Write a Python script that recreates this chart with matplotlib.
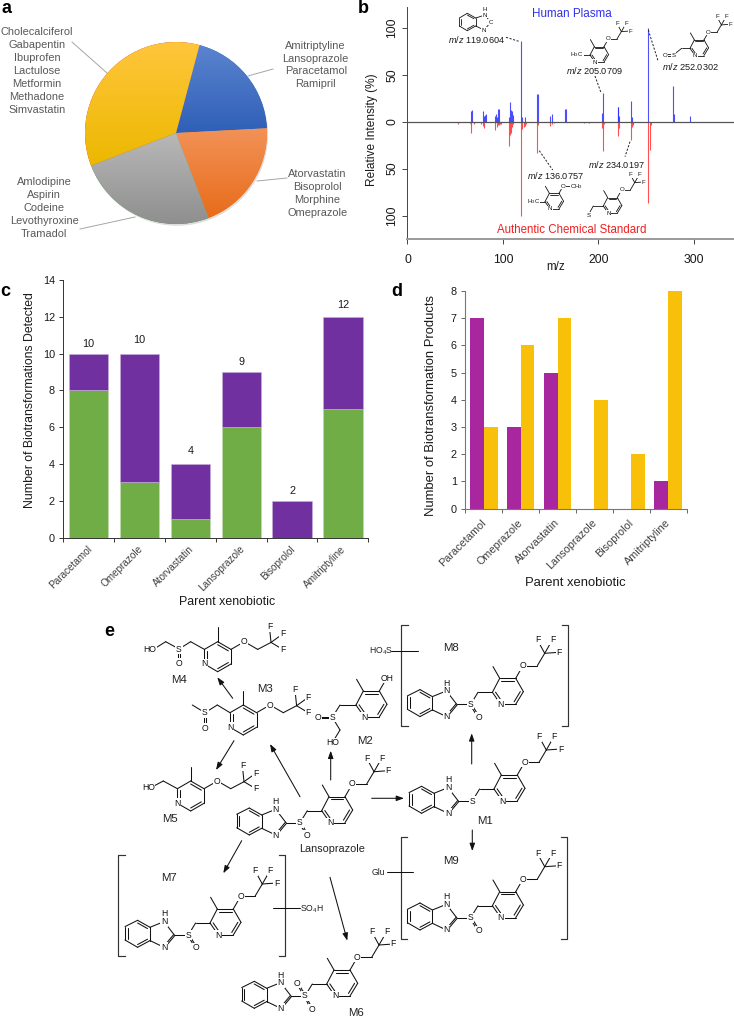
import matplotlib
matplotlib.use("Agg")
import matplotlib.pyplot as plt
import numpy as np
from matplotlib.patches import Circle

W, H = 734, 1019

plt.rcParams["font.family"] = ["Liberation Sans", "DejaVu Sans"]
plt.rcParams["mathtext.fontset"] = "custom"
plt.rcParams["mathtext.rm"] = "Liberation Sans"
plt.rcParams["mathtext.it"] = "Liberation Sans:italic"
plt.rcParams["mathtext.bf"] = "Liberation Sans:bold"
plt.rcParams["mathtext.default"] = "regular"

# panel a
pie_counts = [4, 4, 5, 7]
pie_top = ["#5b84cf", "#f29257", "#b8b8b8", "#ffc63c"]
pie_bottom = ["#2f5fb8", "#e86c1a", "#8f8f8f", "#ecb800"]
pie_groups = [
    ["Amitriptyline", "Lansoprazole", "Paracetamol", "Ramipril"],
    ["Atorvastatin", "Bisoprolol", "Morphine", "Omeprazole"],
    ["Amlodipine", "Aspirin", "Codeine", "Levothyroxine", "Tramadol"],
    ["Cholecalciferol", "Gabapentin", "Ibuprofen", "Lactulose", "Metformin", "Methadone", "Simvastatin"],
]

# panel b
plasma_mz = [66, 68, 79, 80, 81, 82, 92, 93, 94, 95, 96, 106, 107, 108, 109, 110, 119, 120, 123, 136, 137,
             149, 151, 165, 166, 204, 205, 220, 221, 222, 234, 235, 252, 278, 279, 296]
plasma_int = [11, 12, 11, 6, 7, 8, 6, 8, 5, 13, 13, 5, 21, 12, 11, 7, 86, 5, 5, 30, 30,
              6, 8, 13, 13, 9, 31, 16, 16, 6, 22, 5, 100, 38, 8, 6]
standard_mz = [53, 65, 66, 67, 70, 77, 79, 80, 92, 94, 95, 96, 97, 98, 106, 107, 108, 109, 110, 119, 120,
               122, 123, 124, 136, 137, 149, 151, 153, 185, 190, 204, 205, 206, 220, 222, 234, 235, 236,
               252, 254, 255]
standard_int = [2, 1, 12, 4, 2, 2, 5, 7, 9, 6, 4, 4, 3, 2, 26, 14, 12, 6, 3, 100, 8,
                6, 5, 2, 33, 4, 5, 3, 1, 1, 1, 7, 31, 3, 15, 7, 20, 6, 4,
                87, 30, 4]

# panels c and d
drugs = ["Paracetamol", "Omeprazole", "Atorvastatin", "Lansoprazole", "Bisoprolol", "Amitriptyline"]
detected_green = [8, 3, 1, 6, 0, 7]
detected_purple = [2, 7, 3, 3, 2, 5]
detected_total = [10, 10, 4, 9, 2, 12]
products_purple = [7, 3, 5, 0, 0, 1]
products_yellow = [3, 6, 7, 4, 2, 8]

GREY_TEXT = "#595959"
TICK_TEXT = "#404040"
TEXT = "#1a1a1a"
CHEM_LW = 0.75
CHEM_FS = 6.2

fig = plt.figure(figsize=(W / 100, H / 100), dpi=100, facecolor="white")


def px_axes(left, top, right, bottom, **kwargs):
    return fig.add_axes([left / W, 1 - bottom / H, (right - left) / W, (bottom - top) / H], **kwargs)


# full figure overlay in pixel coordinates, for labels and structures
ov = fig.add_axes([0, 0, 1, 1], zorder=10)
ov.set_xlim(0, W)
ov.set_ylim(H, 0)
ov.axis("off")
ov.patch.set_alpha(0)


def draw_pie():
    ax = px_axes(85, 42, 267, 224)
    ax.add_patch(Circle((0.012, -0.02), 1.0, color="#000000", alpha=0.13, lw=0, clip_on=False))
    wedges, _ = ax.pie(pie_counts, startangle=75, counterclock=False, radius=1, center=(0, 0))
    for wedge, top, bottom in zip(wedges, pie_top, pie_bottom):
        ext = wedge.get_path().get_extents()
        c1 = np.array(matplotlib.colors.to_rgb(top))
        c2 = np.array(matplotlib.colors.to_rgb(bottom))
        grad = np.linspace(0, 1, 128)[:, None, None] * (c2 - c1) + c1
        img = ax.imshow(grad, extent=(-1.05, 1.05, ext.y0, ext.y1), origin="upper", aspect="auto", zorder=3)
        img.set_clip_path(wedge)
    ax.set_xlim(-1, 1)
    ax.set_ylim(-1, 1)
    ax.axis("off")

    spots = [(315.7, 65), (317.3, 193.8), (44.3, 208), (37, 71)]
    for names, (x, y) in zip(pie_groups, spots):
        ov.text(x, y, "\n".join(names), ha="center", va="center", ma="center", fontsize=7.9,
                color=GREY_TEXT, linespacing=1.37)
    leaders = [((248, 76), (273, 69)), ((257, 181), (287, 178)), ((80, 229), (135, 217)), ((72, 42), (107, 73))]
    for (x0, y0), (x1, y1) in leaders:
        ov.plot([x0, x1], [y0, y1], color="#a6a6a6", lw=0.7)


def draw_spectrum():
    ax = px_axes(407.5, 6.7, 734, 238.7)
    ax.vlines(plasma_mz, 0, plasma_int, color="#3030ff", lw=0.8, alpha=0.85)
    ax.vlines(standard_mz, 0, [-v for v in standard_int], color="#ff3030", lw=0.8, alpha=0.85)
    ax.axhline(0, color="#555555", lw=0.9, zorder=3)
    ax.set_xlim(0, 342)
    ax.set_ylim(-124.7, 122.5)
    ax.set_xticks([0, 100, 200, 300])
    ax.set_yticks([-100, -50, 0, 50, 100])
    ax.set_yticklabels(["100", "50", "0", "50", "100"], rotation=90, va="center", fontsize=8.8)
    ax.tick_params(axis="x", labelsize=8.8, length=3.5, width=0.7, pad=7.5, color="#444444", labelcolor=TEXT)
    ax.tick_params(axis="y", length=3.5, width=0.7, pad=3, color="#444444", labelcolor=TEXT)
    for side in ("top", "right"):
        ax.spines[side].set_visible(False)
    ax.spines["left"].set_linewidth(0.7)
    ax.spines["left"].set_color("#444444")
    ax.spines["bottom"].set_linewidth(1.4)
    ax.spines["bottom"].set_color("#9a9a9a")

    ov.text(372, 130, "Relative Intensity (%)", rotation=90, ha="center", va="center", fontsize=8.6, color=TEXT)
    ov.text(556, 267, "m/z", ha="center", va="center", fontsize=8.4, color=TEXT)
    ov.text(572, 14, "Human Plasma", ha="center", va="center", fontsize=8.4, color="#3030ee")
    ov.text(572, 230, "Authentic Chemical Standard", ha="center", va="center", fontsize=8.3, color="#ee2020")

    peaks = [
        ("119.0604", 476.7, 39), ("205.0709", 594, 70.5), ("252.0302", 690, 66),
        ("136.0757", 555, 175.5), ("234.0197", 616.7, 164),
    ]
    for name, x, y in peaks:
        ov.text(x, y, r"$\mathit{m/z}$ " + name, ha="center", va="center", fontsize=6.6, color=TEXT)
    dashes = [((506, 37.3), (520, 41.7)), ((595, 76), (601, 92.7)), ((648.3, 30), (658.3, 61.7)),
              ((539.3, 150.7), (552.7, 170)), ((630, 141.7), (625, 156.7))]
    for (x0, y0), (x1, y1) in dashes:
        ov.plot([x0, x1], [y0, y1], color="#222222", lw=0.7, ls=(0, (2.2, 1.6)))


def drug_ticks(ax, x, offset, size):
    for xi, name in zip(x, drugs):
        ax.annotate(name, (xi, 0), xytext=offset, textcoords="offset points", rotation=45, ha="right", va="top",
                    rotation_mode="anchor", fontsize=size, color=TICK_TEXT)


def draw_stacked():
    ax = px_axes(63.3, 280, 368.3, 537.7)
    x = np.arange(len(drugs))
    ax.bar(x, detected_green, width=0.775, color="#70AD47", edgecolor="#c4dcb4", lw=0.4)
    ax.bar(x, detected_purple, width=0.775, bottom=detected_green, color="#7030A0", edgecolor="#c9b0dc", lw=0.4)
    lifts = [0.5, 0.72, 0.7, 0.53, 0.56, 0.63]
    for xi, total, lift in zip(x, detected_total, lifts):
        ax.text(xi, total + lift, str(total), ha="center", va="center", fontsize=7.8, color=TEXT)
    ax.set_xlim(-0.5, 5.5)
    ax.set_ylim(0, 14)
    ax.set_xticks(np.arange(-0.5, 6, 1))
    ax.set_xticklabels([])
    ax.set_yticks(range(0, 15, 2))
    ax.tick_params(axis="y", labelsize=7.8, length=3, width=0.7, pad=3, color="#333333", labelcolor=TEXT)
    ax.tick_params(axis="x", length=3, width=0.7, color="#333333")
    for side in ("top", "right"):
        ax.spines[side].set_visible(False)
    for side in ("left", "bottom"):
        ax.spines[side].set_linewidth(0.7)
        ax.spines[side].set_color("#333333")
    drug_ticks(ax, x, (-1.5, -4.5), 7.2)
    ov.text(30, 400, "Number of Biotransformations Detected", rotation=90, ha="center", va="center",
            fontsize=8.8, color=TEXT)
    ov.text(226.7, 601.7, "Parent xenobiotic", ha="center", va="center", fontsize=8.9, color=TEXT)


def draw_grouped():
    ax = px_axes(465.3, 291, 686.7, 508.7)
    x = np.arange(len(drugs))
    ax.bar(x - 0.1875, products_purple, width=0.375, color="#A8279F")
    ax.bar(x + 0.1875, products_yellow, width=0.375, color="#F9C009")
    ax.set_xlim(-0.5, 5.5)
    ax.set_ylim(0, 8)
    ax.set_xticks(np.arange(-0.5, 6, 1))
    ax.set_xticklabels([])
    ax.set_yticks(range(0, 9))
    ax.tick_params(axis="y", labelsize=7.8, length=3, width=0.7, pad=3, color="#666666", labelcolor=TEXT)
    ax.tick_params(axis="x", length=3, width=0.7, color="#666666")
    for side in ("top", "right"):
        ax.spines[side].set_visible(False)
    for side in ("left", "bottom"):
        ax.spines[side].set_linewidth(0.8)
        ax.spines[side].set_color("#777777")
    drug_ticks(ax, x, (-2, -6.5), 7.8)
    ov.text(431, 406, "Number of Biotransformation Products", rotation=90, ha="center", va="center",
            fontsize=9.4, color=TEXT)
    ov.text(575.7, 582.7, "Parent xenobiotic", ha="center", va="center", fontsize=9.4, color=TEXT)


# structure drawing helpers, all offsets in reference pixels
FLAT = {"C2": (0, 0), "C3": (7.3, -14), "C4": (23.3, -14), "C5": (31, -0.7), "C6": (23.3, 12), "N": (8.3, 12),
        "Me": (0.6, -25.7), "O": (30.6, -26.7), "CH2": (45, -26.7), "CF": (52.3, -39),
        "F1": (45, -52.4), "F2": (60, -52.4), "F3": (66.6, -40)}
POINTY = {"C2": (-13.3, 7.7), "C3": (0, 0), "C4": (13.3, 7.7), "C5": (13.3, 22.3), "C6": (0, 30), "N": (-13.3, 22.3),
          "Me": (0, -14.3), "O": (26.7, 0), "CH2": (40, 7.7), "CF": (53.3, 0.7),
          "F1": (51.7, -15), "F2": (65, -7.7), "F3": (65, 7.7)}
BENZENE = [(-63.3, -8.4), (-50.7, -14.7), (-38.3, -7.7), (-38.3, 5.6), (-50.7, 12.3), (-63.3, 5)]


def bond(p, q, lw=CHEM_LW):
    ov.plot([p[0], q[0]], [p[1], q[1]], color="#111111", lw=lw, zorder=1, solid_capstyle="round")


def atom(p, label, fs=CHEM_FS):
    ov.text(p[0], p[1], label, ha="center", va="center", fontsize=fs, color="#111111", zorder=2,
            bbox=dict(boxstyle="square,pad=0.08", fc="white", ec="none"))


def inner(p, q, centre, gap=0.2, lw=CHEM_LW):
    p, q, centre = np.array(p), np.array(q), np.array(centre)
    a = p + (centre - p) * gap
    b = q + (centre - q) * gap
    bond(a, b, lw)


def double(p, q, gap=1.3, lw=CHEM_LW):
    p, q = np.array(p, float), np.array(q, float)
    n = np.array([q[1] - p[1], p[0] - q[0]])
    n = n / np.hypot(*n) * gap / 2
    bond(p + n, q + n, lw)
    bond(p - n, q - n, lw)


def ring(points, doubles, lw=CHEM_LW):
    centre = np.mean(points, axis=0)
    for i in range(len(points)):
        bond(points[i], points[(i + 1) % len(points)], lw)
    for i in doubles:
        inner(points[i], points[(i + 1) % len(points)], centre, lw=lw)


def tail(origin, template, scale=1.0, fluoro=True, fs=CHEM_FS, lw=CHEM_LW):
    pts = {k: (origin[0] + v[0] * scale, origin[1] + v[1] * scale) for k, v in template.items()}
    ring([pts[k] for k in ("C2", "C3", "C4", "C5", "C6", "N")], [1, 3, 5], lw)
    bond(pts["C3"], pts["Me"], lw)
    bond(pts["C4"], pts["O"], lw)
    if fluoro:
        bond(pts["O"], pts["CH2"], lw)
        bond(pts["CH2"], pts["CF"], lw)
        for f in ("F1", "F2", "F3"):
            bond(pts["CF"], pts[f], lw)
            atom(pts[f], "F", fs)
        atom(pts["O"], "O", fs)
    atom(pts["N"], "N", fs)
    return pts


def benzimidazole(s):
    pts = [(s[0] + dx, s[1] + dy) for dx, dy in BENZENE]
    ring(pts, [1, 3, 5])
    nh = (s[0] - 24.3, s[1] - 13.4)
    c2 = (s[0] - 14, s[1])
    n = (s[0] - 24.3, s[1] + 12.3)
    bond(pts[2], nh)
    bond(nh, c2)
    double(c2, n, 1.5)
    bond(n, pts[3])
    bond(c2, s)
    atom(nh, "N")
    ov.text(nh[0], nh[1] - 7.6, "H", ha="center", va="center", fontsize=CHEM_FS, color="#111111")
    atom(n, "N")


def full_molecule(s, oxygens):
    ch2 = (s[0] + 7.3, s[1] - 12)
    c2 = (s[0] + 21.7, s[1] - 12)
    benzimidazole(s)
    bond(s, ch2)
    bond(ch2, c2)
    tail(c2, FLAT)
    for ox, oy in oxygens:
        o = (s[0] + ox, s[1] + oy)
        double(s, o, 1.5)
        atom(o, "O")
    atom(s, "S")


def bracket(x0, x1, y0, y1):
    for x, d in ((x0, 6.5), (x1, -6.5)):
        ov.plot([x + d, x, x, x + d], [y0, y0, y1, y1], color="#333333", lw=0.85, zorder=1)


def arrow(p, q):
    ov.annotate("", xy=q, xytext=p, arrowprops=dict(arrowstyle="-|>,head_length=0.45,head_width=0.16",
                                                    color="#111111", lw=0.75, shrinkA=0, shrinkB=0))


def label(x, y, s, fs=8.2):
    ov.text(x, y, s, ha="center", va="center", fontsize=fs, color="#222222")


def draw_scheme():
    # lansoprazole and the products that keep the same skeleton
    full_molecule((300, 822.7), [(7.3, 12.3)])
    label(332.5, 849, "Lansoprazole", 7.8)
    full_molecule((470.7, 704.3), [(8, 13)])
    full_molecule((472.3, 801), [])
    full_molecule((470.7, 917.7), [(8, 13)])
    full_molecule((188.3, 935), [(8, 13)])
    full_molecule((305, 996), [(-7.7, -12.7), (6.7, 13.3)])
    label(451, 648, "M8")
    label(485.5, 821, "M1")
    label(451, 861, "M9")
    label(169, 878, "M7")
    label(356, 1013.5, "M6")

    bracket(401, 568, 624.7, 726)
    bracket(400.7, 567.3, 837.3, 939)
    bracket(118.3, 285, 855, 955.7)

    bond((391, 651), (417.7, 651))
    bond((386.7, 872.3), (412.7, 872.3))
    bond((273.3, 908.3), (300, 908.3))
    label(380.5, 651, r"HO$_4$S", CHEM_FS)
    label(378, 872.3, "Glu", CHEM_FS)
    label(311.5, 909, r"SO$_4$H", CHEM_FS)

    # M4
    tail((217.7, 641.7), POINTY)
    bond((204.4, 649.4), (190.7, 641.7))
    bond((190.7, 641.7), (179, 649))
    bond((179, 649), (165.7, 641.7))
    bond((165.7, 641.7), (154, 649))
    double((179, 649), (179, 663.3), 1.5)
    atom((179, 649), "S")
    atom((179, 663.3), "O")
    atom((150, 649), "HO")
    label(179, 680, "M4")

    # M3
    tail((243.3, 705), POINTY)
    bond((230, 712.7), (217.3, 705))
    bond((217.3, 705), (205, 712.7))
    bond((205, 712.7), (192.3, 705))
    double((205, 712.7), (205, 728.3), 1.5)
    atom((205, 712.7), "S")
    atom((205, 728.3), "O")
    label(265.5, 689, "M3")

    # M5
    tail((190.7, 781), POINTY)
    bond((177.4, 788.7), (163.3, 781))
    bond((163.3, 781), (152, 787))
    atom((148.3, 787.7), "HO")
    label(169.5, 819.5, "M5")

    # M2
    pts = tail((356, 705), FLAT, fluoro=False)
    atom(pts["O"], "OH")
    bond((356, 705), (340, 705))
    bond((340, 705), (332.3, 717.3))
    double((332.3, 717.3), (318.3, 717.3), 1.5)
    bond((332.3, 717.3), (340, 730))
    bond((340, 730), (332.3, 742.7))
    atom((332.3, 717.3), "S")
    atom((318.3, 717.3), "O")
    atom((332.3, 742.7), "HO")
    label(365, 740.5, "M2")

    arrows = [
        ((232.7, 698.3), (217.3, 677.3)), ((234, 740.7), (216, 770)), ((300, 796.7), (270, 744)),
        ((330.7, 780), (330.7, 750.7)), ((371.7, 798.3), (404, 798.3)),
        ((471.7, 764), (471.7, 733.3)), ((472.3, 830), (472.3, 851)),
        ((241.7, 840.7), (223.3, 873.3)), ((330, 877.3), (347.3, 940.7)),
    ]
    for p, q in arrows:
        arrow(p, q)


def draw_spectrum_fragments():
    fs = 4.4
    lw = 0.6
    scale = 0.6
    # m/z 119
    pts = [(467.3, 13.3), (475.7, 18), (475.7, 26), (467.3, 30.7), (459.3, 26), (459.3, 18)]
    ring(pts, [0, 2, 4], lw)
    nh, c, n = (485, 15), (490.7, 22.3), (484, 30)
    bond(pts[1], nh, lw)
    bond(c, n, lw)
    bond(n, pts[2], lw)
    bond(nh, c, lw)
    atom(nh, "N", fs)
    ov.text(485, 9, "H", ha="center", va="center", fontsize=fs, color="#111111")
    atom(c, "C", fs)
    atom(n, "N", fs)

    # m/z 205
    tail((590, 55), FLAT, scale, fs=fs, lw=lw)
    bond((590, 55), (582, 55), lw)
    atom((576.7, 55), r"H$_3$C", fs)

    # m/z 252
    tail((690, 48.3), FLAT, scale, fs=fs, lw=lw)
    bond((690, 48.3), (681.7, 48.3), lw)
    bond((681.7, 48.3), (673.3, 55), lw)
    double((673.3, 55), (665, 55), 1.2, lw)
    atom((673.3, 55), "S", fs)
    atom((665, 55), "O", fs)

    # m/z 234
    tail((603.3, 206), FLAT, scale, fs=fs, lw=lw)
    bond((603.3, 206), (593.3, 206), lw)
    bond((593.3, 206), (588.3, 215), lw)
    atom((588.3, 215), "S", fs)

    # m/z 136
    tail((545, 201.7), FLAT, scale, fluoro=False, fs=fs, lw=lw)
    bond((545, 201.7), (537, 201.7), lw)
    atom((533.3, 201.7), r"H$_3$C", fs)
    bond((563.3, 186), (571, 186), lw)
    atom((563.3, 186), "O", fs)
    atom((577, 186.5), r"CH$_3$", fs)


draw_pie()
draw_spectrum()
draw_stacked()
draw_grouped()
draw_scheme()
draw_spectrum_fragments()

for x, y, s in [(6, 8, "a"), (363, 8, "b"), (5, 292, "c"), (397, 292, "d"), (109, 632, "e")]:
    ov.text(x, y, s, ha="center", va="center", fontsize=13, fontweight="bold", color="black")

fig.savefig("out.png", dpi=100)
